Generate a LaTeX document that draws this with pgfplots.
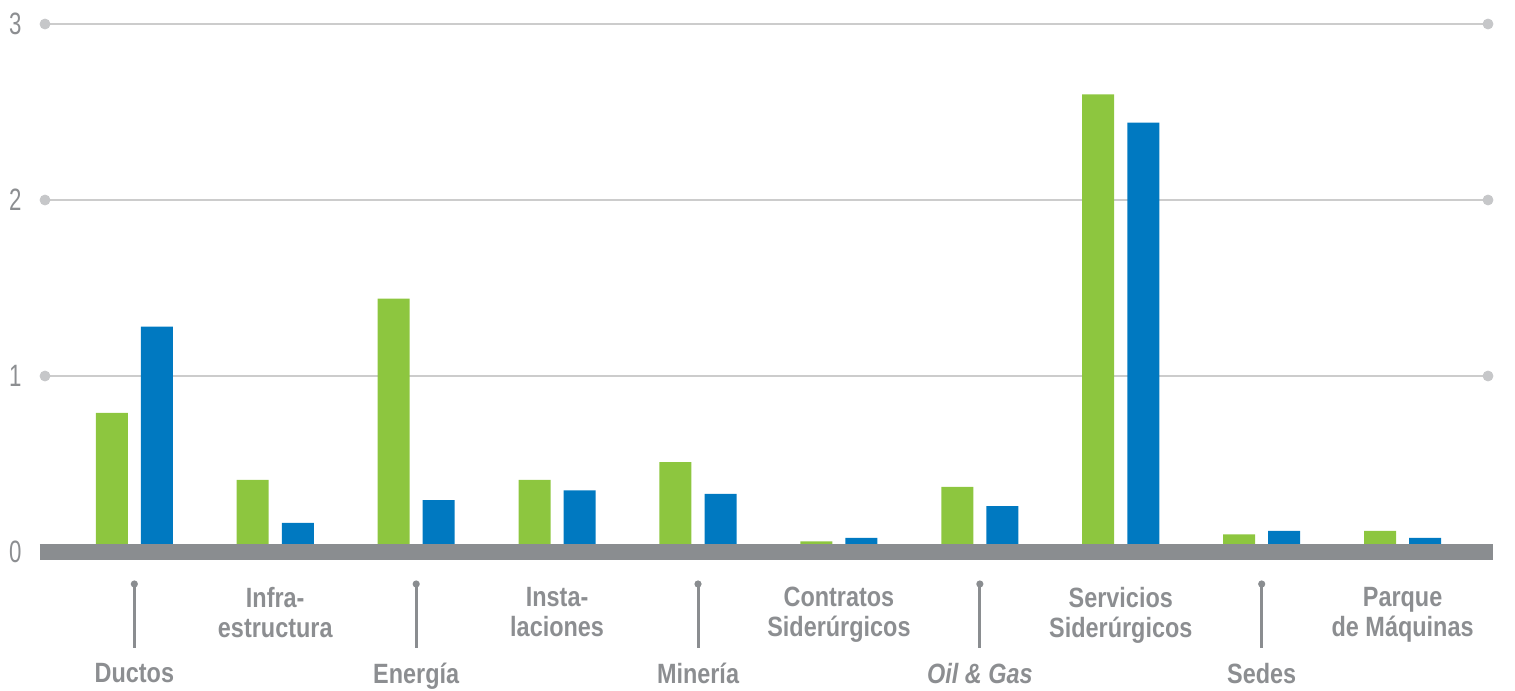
\documentclass[border=0pt]{standalone}
\usepackage{fontspec}
\setmainfont{Liberation Sans}[FakeStretch=0.84]
\newfontfamily\tickfont{Liberation Sans}[FakeStretch=0.72]
\usepackage{pgfplots}
\pgfplotsset{compat=1.18}
\definecolor{barGreen}{HTML}{8DC63F}
\definecolor{barBlue}{HTML}{0079C1}
\definecolor{baseGray}{HTML}{8A8D90}
\definecolor{gridGray}{HTML}{CCCCCC}
\definecolor{dotGray}{HTML}{C6C7C9}
\definecolor{labelGray}{HTML}{8C8E91}

\begin{document}
\begin{tikzpicture}
\path (0,0) rectangle (757.5bp,345.5bp);
\begin{axis}[
  at={(22.5bp,69.5bp)}, anchor=south west,
  scale only axis, width=721.5bp, height=264bp,
  xmin=-0.634, xmax=9.606, ymin=0, ymax=3,
  clip=false,
  axis line style={draw=none}, tick style={draw=none},
  ytick={0,1,2,3}, ymajorgrids, grid style={gridGray, line width=0.7bp},
  /pgf/number format/assume math mode=true,
  yticklabel style={font=\tickfont\fontsize{15.5}{15.5}\selectfont, text=labelGray,
    anchor=east, inner sep=0pt, xshift=-11.5bp},
  xtick={1,3,5,7,9},
  xticklabels={{Infra-\\estructura}, {Insta-\\laciones}, {Contratos\\Siderúrgicos},
    {Servicios\\Siderúrgicos}, {Parque\\de Máquinas}},
  xticklabel style={font=\bfseries\fontsize{14}{15}\selectfont, text=labelGray,
    align=center, anchor=north, inner sep=0pt, yshift=-17.5bp},
  extra x ticks={0,2,4,6,8},
  extra x tick labels={Ductos, Energía, Minería, \textit{Oil \& Gas}, Sedes},
  extra x tick style={xticklabel style={yshift=-38bp}},
]
% verde
\addplot[ybar, bar width=0.227, bar shift=-0.16, fill=barGreen, draw=none]
  coordinates {(0,0.79) (1,0.41) (2,1.44) (3,0.41) (4,0.51) (5,0.06) (6,0.37) (7,2.60) (8,0.10) (9,0.12)};
% azul
\addplot[ybar, bar width=0.227, bar shift=0.16, fill=barBlue, draw=none]
  coordinates {(0,1.28) (1,0.165) (2,0.295) (3,0.35) (4,0.33) (5,0.08) (6,0.26) (7,2.44) (8,0.12) (9,0.08)};
% puntos de la rejilla
\addplot[dotGray, only marks, mark=*, mark size=2.5bp, mark options={fill=dotGray, draw=none}]
  coordinates {(-0.634,1) (-0.634,2) (-0.634,3) (9.606,1) (9.606,2) (9.606,3)};
% línea base
\draw[baseGray, line width=8bp] ([xshift=-2.5bp]axis cs:-0.634,0) -- ([xshift=2.5bp]axis cs:9.606,0);
% guías de las etiquetas inferiores
\pgfplotsinvokeforeach{0,2,4,6,8}{
  \draw[baseGray, line width=1.5bp] ([yshift=-16bp]axis cs:#1,0) -- ([yshift=-48bp]axis cs:#1,0);
  \fill[baseGray] ([yshift=-16bp]axis cs:#1,0) circle (1.8bp);
}
\end{axis}
\end{tikzpicture}
\end{document}
